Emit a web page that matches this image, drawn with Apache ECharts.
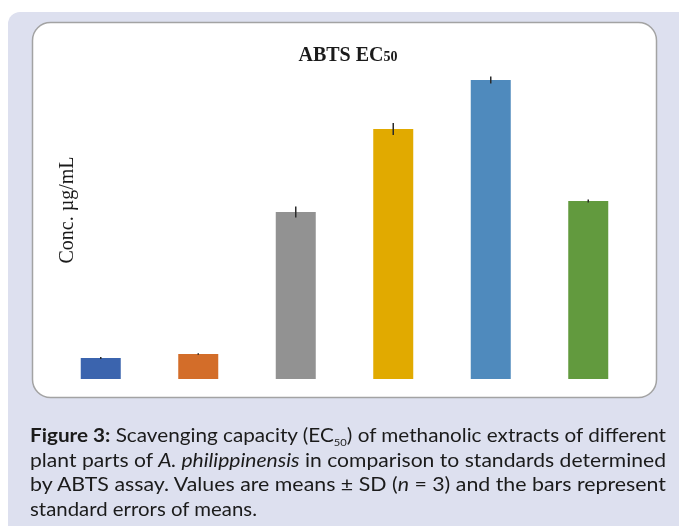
<!DOCTYPE html>
<html>
<head>
<meta charset="utf-8">
<script src="https://cdn.jsdelivr.net/npm/echarts@6/dist/echarts.min.js"></script>
<style>
  html, body { margin: 0; padding: 0; background: #ffffff; }
  #wrap { position: relative; width: 679px; height: 526px; overflow: hidden; }
  #chart { position: absolute; left: 0; top: 0; width: 679px; height: 526px; }
  #caption { position: absolute; left: 30px; top: 423px; width: 636px; font-family: Lato, "Noto Sans", sans-serif; font-size: 18.5px; color: #1b1b1b; line-height: 24.5px; }
  #caption .ln { white-space: nowrap; height: 24.5px; }
  #caption .ln span.in { display: inline-block; transform-origin: 0 50%; }
  #caption sub { font-size: 10px; vertical-align: -4px; line-height: 0; }
</style>
</head>
<body>
<div id="wrap">
  <div id="chart"></div>
  <div id="caption">
    <div class="ln" data-w="636"><span class="in"><b>Figure 3:</b> Scavenging capacity (EC<sub>50</sub>) of methanolic extracts of different</span></div>
    <div class="ln" data-w="636"><span class="in">plant parts of <i>A. philippinensis</i> in comparison to standards determined</span></div>
    <div class="ln" data-w="636"><span class="in">by ABTS assay. Values are means ± SD (<i>n</i> = 3) and the bars represent</span></div>
    <div class="ln" data-w="227"><span class="in">standard errors of means.</span></div>
  </div>
</div>
<script>
// ---- data ----
var categories = ['Sample 1', 'Sample 2', 'Sample 3', 'Sample 4', 'Sample 5', 'Sample 6'];
var values = [21, 25, 167, 250, 299, 178];
var errors = [1, 0.8, 5.5, 6, 3.5, 1.5];
var barColors = ['#3b64ae', '#d36d29', '#929292', '#e1aa00', '#4f8abd', '#629a3e'];
var chartTitle = 'ABTS EC';
var chartTitleSub = '50';
var yAxisName = 'Conc. µg/mL';

// ---- chart ----
var chart = echarts.init(document.getElementById('chart'), null, { renderer: 'canvas' });

var barData = values.map(function (v, i) {
  return { value: v, itemStyle: { color: barColors[i] } };
});
var errData = values.map(function (v, i) {
  return [i, v - errors[i], v + errors[i]];
});

var option = {
  animation: false,
  backgroundColor: '#ffffff',
  graphic: [
    { type: 'rect', z: -20, silent: true,
      shape: { x: 8, y: 12, width: 690, height: 530, r: 12 },
      style: { fill: '#dde0ef' } },
    { type: 'rect', z: -10, silent: true,
      shape: { x: 32.5, y: 22.5, width: 624, height: 375, r: 18 },
      style: { fill: '#ffffff', stroke: '#a3a3a3', lineWidth: 1.5 } },
    { type: 'text', z: 10, silent: true,
      x: 68, y: 210, rotation: Math.PI / 2,
      style: { text: yAxisName, fill: '#1a1a1a', font: '20px "Liberation Serif", "DejaVu Serif", serif',
               align: 'center', verticalAlign: 'middle' } }
  ],
  title: {
    text: '{a|' + chartTitle + '}{b|' + chartTitleSub + '}',
    left: 343, top: 41, textAlign: 'center',
    textStyle: {
      rich: {
        a: { fontFamily: '"Liberation Serif", serif', fontWeight: 'bold', fontSize: 20, color: '#1a1a1a', verticalAlign: 'bottom' },
        b: { fontFamily: '"Liberation Serif", serif', fontWeight: 'bold', fontSize: 14, color: '#1a1a1a', verticalAlign: 'bottom', padding: [0, 0, 2, 0] }
      }
    }
  },
  grid: { left: 52, right: 42, top: 79, bottom: 147 },
  xAxis: {
    type: 'category', data: categories,
    axisLine: { show: false }, axisTick: { show: false }, axisLabel: { show: false }
  },
  yAxis: {
    type: 'value', min: 0, max: 300,
    axisLine: { show: false }, axisTick: { show: false }, axisLabel: { show: false },
    splitLine: { show: false }
  },
  series: [
    { type: 'bar', data: barData, barWidth: 40 },
    { type: 'custom', data: errData, z: 5,
      renderItem: function (params, api) {
        var x = api.value(0);
        var lo = api.coord([x, api.value(1)]);
        var hi = api.coord([x, api.value(2)]);
        return { type: 'line', shape: { x1: lo[0], y1: lo[1], x2: hi[0], y2: hi[1] },
                 style: { stroke: '#2a2a2a', lineWidth: 1.5 } };
      }
    }
  ]
};
chart.setOption(option);

// fit caption lines to the justified widths of the reference
document.querySelectorAll('#caption .ln').forEach(function (ln) {
  var target = parseFloat(ln.getAttribute('data-w'));
  var inner = ln.querySelector('.in');
  var w = inner.getBoundingClientRect().width;
  if (w > 0) inner.style.transform = 'scaleX(' + (target / w) + ')';
});
</script>
</body>
</html>
